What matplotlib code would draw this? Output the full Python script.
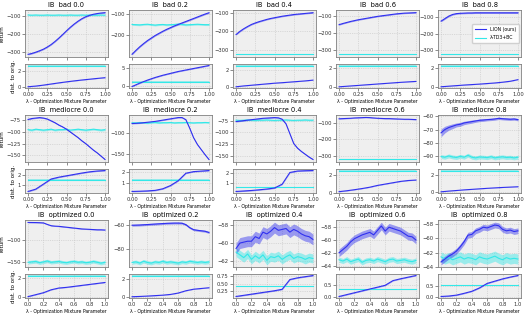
import matplotlib.pyplot as plt
import numpy as np

# lambda grid (mixture parameter)
lam21 = [0.0, 0.05, 0.1, 0.15, 0.2, 0.25, 0.3, 0.35, 0.4, 0.45, 0.5,
         0.55, 0.6, 0.65, 0.7, 0.75, 0.8, 0.85, 0.9, 0.95, 1.0]
lam11 = [0.0, 0.1, 0.2, 0.3, 0.4, 0.5, 0.6, 0.7, 0.8, 0.9, 1.0]

datasets = ["bad", "mediocre", "optimized"]
betas = ["0.0", "0.2", "0.4", "0.6", "0.8"]

# ---- return of LION (ours), 21 points per panel ----
bad_lion = [
    [-315, -310, -303, -295, -286, -274, -260, -243, -224, -204, -183,
     -163, -145, -129, -115, -104, -96, -90, -86, -83, -81],
    [-290, -272, -255, -240, -226, -214, -202, -192, -182, -173, -165,
     -157, -150, -143, -136, -129, -122, -115, -108, -101, -95],
    [-217, -200, -186, -174, -163, -155, -148, -142, -136, -131, -127,
     -123, -119, -116, -113, -110, -108, -106, -104, -102, -100],
    [-150, -143, -137, -131, -126, -121, -117, -113, -109, -105, -101,
     -98, -95, -92, -89, -86, -84, -82, -81, -80, -79],
    [-125, -110, -95, -85, -80, -78, -77, -76, -76, -75, -75,
     -75, -75, -75, -75, -75, -75, -75, -75, -75, -75],
]
bad_lion_std = [3, 3, 3, 3, 4]

mediocre_lion = [
    [-73, -71, -70, -69, -70, -72, -76, -80, -85, -89, -94,
     -100, -106, -112, -119, -125, -132, -139, -145, -152, -159],
    [-79, -78.5, -78, -77, -76, -75, -74, -72.5, -71, -69.5, -68,
     -66.5, -65, -65, -70, -90, -112, -128, -140, -152, -163],
    [-77, -76, -75, -74, -73, -72, -71, -70, -69.5, -69, -68.5,
     -69, -72, -82, -103, -124, -134, -141, -147, -153, -158],
    [-75, -74, -73, -72, -70, -69, -68, -67, -68, -70, -72,
     -73, -74, -74, -75, -76, -77, -78, -78, -79, -80],
    [-72.5, -70, -68.5, -67.5, -66.5, -66, -65, -64.5, -64, -63.5, -63,
     -62.8, -62.5, -62.3, -62, -61.5, -61.8, -62, -62.2, -62, -62.5],
]
mediocre_lion_std = [1.0, 1.0, 1.0, 2.0,
                     [3.0, 2.5, 2.0, 1.8, 1.5, 1.5, 1.3, 1.2, 1.2, 1.0, 1.0,
                      1.0, 0.9, 0.9, 0.9, 0.9, 0.9, 0.9, 0.9, 0.9, 0.9]]

optimized_lion = [
    [-58.5, -58.6, -58.7, -59, -59.5, -63, -66, -67, -67.5, -68.5, -69.5,
     -70.5, -71.5, -72.5, -73.5, -74, -74.5, -75, -75.5, -75.5, -76],
    [-60, -59.9, -59.8, -59.6, -59.4, -59.2, -59, -58.8, -58.6, -58.4, -58.3,
     -58.2, -58.2, -58.3, -59.5, -62, -63.7, -64.2, -64.6, -65, -66],
    [-60.6, -60.0, -59.9, -59.8, -59.8, -59.3, -59.5, -58.8, -59.0, -58.7, -58.3,
     -58.6, -58.5, -58.4, -58.8, -58.5, -58.7, -59.0, -59.2, -59.3, -59.6],
    [-62.0, -61.5, -61.0, -60.3, -59.8, -59.5, -59.2, -59.0, -58.8, -59.2, -58.5,
     -57.8, -58.6, -58.0, -58.2, -58.4, -58.6, -59.0, -59.4, -59.5, -60.0],
    [-63.3, -62.9, -62.5, -62.2, -61.8, -61.2, -60.5, -59.6, -59.5, -59.0, -58.8,
     -58.5, -58.6, -58.4, -58.2, -58.3, -58.8, -59.0, -58.9, -59.1, -59.0],
]
optimized_lion_std = [0.8, 0.8, 0.6, 0.6, 0.4]

# ---- return of lambda-TD3+BC, 21 points per panel ----
bad_td3 = [
    [-94, -95, -94, -95, -95, -94, -95, -95, -94, -95, -95,
     -94, -95, -95, -94, -95, -94, -95, -95, -94, -95],
    [-150, -151, -152, -150, -149, -151, -153, -151, -150, -152, -151,
     -150, -148, -150, -152, -151, -150, -149, -150, -151, -151],
    [-323] * 21,
    [-325] * 21,
    [-325] * 21,
]
bad_td3_std = [4, 4, 3, 3, 3]

mediocre_td3 = [
    [-95, -96, -94, -95, -96, -95, -94, -96, -95, -95, -94,
     -96, -95, -94, -95, -96, -95, -94, -95, -96, -95],
    [-77, -77.5, -76.5, -77, -78, -77, -76.5, -77.5, -77, -77, -76.5,
     -77.5, -77, -77, -76.5, -77, -77.5, -77, -77, -76.5, -77],
    [-74, -74.5, -74, -73.5, -74, -74.5, -74, -74, -73.5, -74, -74.5,
     -74, -74, -73.5, -74, -74.5, -74, -74, -73.5, -74, -74],
    [-322] * 21,
    [-90.5, -91, -90, -90.8, -91.2, -90.3, -91, -89.5, -91, -91.5, -90.8,
     -91, -91.3, -90.6, -91.5, -91, -90.7, -91.2, -91, -91.5, -91],
]
mediocre_td3_std = [2, 1.5, 1.5, 3, 1.5]

optimized_td3 = [
    [-151, -150, -149, -152, -150, -148, -151, -150, -149, -151, -152,
     -150, -149, -151, -150, -152, -151, -149, -151, -153, -151],
    [-91, -90.5, -91.5, -90, -91, -91.5, -90.5, -91, -90, -91, -90.5,
     -91, -91.5, -90.5, -91, -90, -90.5, -91, -90.5, -91, -90.5],
    [-61.0, -61.3, -61.6, -61.2, -61.8, -61.4, -61.7, -61.3, -61.9, -61.5, -61.6,
     -61.4, -61.8, -61.5, -61.3, -61.7, -61.5, -61.6, -61.8, -61.6, -61.7],
    [-63.1, -63.3, -63.0, -63.4, -63.2, -63.0, -63.5, -63.2, -63.1, -63.3, -63.0,
     -63.2, -63.4, -63.1, -63.0, -63.3, -63.2, -63.1, -63.3, -63.4, -63.2],
    [-62.6, -62.9, -62.7, -63.0, -62.8, -62.6, -62.9, -62.7, -62.8, -63.0, -62.6,
     -62.8, -62.9, -62.7, -62.5, -62.8, -63.0, -62.7, -62.9, -62.8, -62.9],
]
optimized_td3_std = [4, 1.5, 0.5, 0.4, 0.7]

# ---- distance to original policy, 11 points per panel ----
bad_lion_dist = [
    [0.02, 0.1, 0.22, 0.36, 0.5, 0.63, 0.75, 0.86, 0.96, 1.06, 1.15],
    [0.0, 0.9, 1.7, 2.4, 3.0, 3.5, 4.0, 4.4, 4.8, 5.2, 5.6],
    [0.02, 0.12, 0.2, 0.28, 0.36, 0.44, 0.5, 0.57, 0.64, 0.71, 0.8],
    [0.02, 0.08, 0.14, 0.2, 0.26, 0.32, 0.38, 0.44, 0.5, 0.55, 0.6],
    [0.02, 0.08, 0.14, 0.2, 0.25, 0.3, 0.36, 0.42, 0.5, 0.6, 0.77],
]
bad_td3_dist = [2.6, 1.3, 2.45, 2.25, 2.2]

mediocre_lion_dist = [
    [0.25, 0.5, 1.05, 1.6, 1.8, 1.95, 2.1, 2.25, 2.38, 2.47, 2.52],
    [0.2, 0.22, 0.25, 0.3, 0.45, 0.75, 1.2, 1.9, 2.05, 2.1, 2.15],
    [0.15, 0.2, 0.25, 0.32, 0.4, 0.5, 0.9, 2.1, 2.25, 2.28, 2.3],
    [0.1, 0.2, 0.32, 0.45, 0.6, 0.8, 0.95, 1.1, 1.25, 1.35, 1.4],
    [0.02, 0.1, 0.17, 0.24, 0.3, 0.36, 0.42, 0.47, 0.52, 0.56, 0.6],
]
mediocre_td3_dist = [1.5, 1.3, 0.6, 2.4, 2.4]

optimized_lion_dist = [
    [0.05, 0.25, 0.45, 0.75, 0.93, 1.0, 1.1, 1.2, 1.3, 1.4, 1.5],
    [0.05, 0.08, 0.12, 0.17, 0.22, 0.3, 0.45, 0.7, 0.87, 0.95, 1.03],
    [0.05, 0.09, 0.13, 0.17, 0.21, 0.25, 0.3, 0.64, 0.7, 0.74, 0.78],
    [0.02, 0.1, 0.18, 0.26, 0.34, 0.42, 0.5, 0.7, 0.78, 0.85, 0.92],
    [0.02, 0.04, 0.08, 0.16, 0.25, 0.4, 0.6, 0.7, 0.8, 0.88, 0.95],
]
optimized_td3_dist = [2.15, 2.3, 0.41, 0.34, 0.52]

# ---- tick labels ----
main_yticks = [
    [[-100, -200, -300], [-100, -200], [-100, -200, -300], [-100, -200, -300], [-100, -200, -300]],
    [[-75, -100, -125, -150], [-100, -150], [-75, -100, -125, -150], [-100, -200, -300], [-60, -70, -80, -90]],
    [[-100, -150], [-60, -80], [-58, -60, -62], [-58, -60, -62, -64], [-58, -60, -62, -64]],
]
sub_yticks = [
    [[0, 2], [0, 5], [0, 2], [0, 2], [0, 2]],
    [[1, 2], [1, 2], [1, 2], [0, 2], [0, 2]],
    [[0, 2], [0, 2], [0.25, 0.5, 0.75], [0.0, 0.5], [0.0, 0.5]],
]
xticks_quarter = [0.0, 0.25, 0.5, 0.75, 1.0]
xticks_fifth = [0.0, 0.2, 0.4, 0.6, 0.8, 1.0]

lion_ret = [bad_lion, mediocre_lion, optimized_lion]
lion_std = [bad_lion_std, mediocre_lion_std, optimized_lion_std]
td3_ret = [bad_td3, mediocre_td3, optimized_td3]
td3_std = [bad_td3_std, mediocre_td3_std, optimized_td3_std]
lion_dist = [bad_lion_dist, mediocre_lion_dist, optimized_lion_dist]
td3_dist = [bad_td3_dist, mediocre_td3_dist, optimized_td3_dist]

# colours / style
c_lion = "#3030f0"
c_td3 = "#33e8e8"
face = "#efefef"

W, H = 527, 314
fig = plt.figure(figsize=(W / 100, H / 100), dpi=100)
col_left = [25, 129, 233, 336, 438]
col_w = 83
row_top = [10, 115, 220]
main_h, gap, sub_h = 47, 7, 24


def style(ax):
    ax.set_facecolor(face)
    ax.grid(True, color="#c4c4c4", linestyle=(0, (2, 2)), linewidth=0.4)
    ax.set_axisbelow(True)
    for s in ax.spines.values():
        s.set_color("#808080")
        s.set_linewidth(0.6)
    ax.tick_params(labelsize=3.8, length=2, width=0.4, pad=1, colors="#333333")
    ax.set_xlim(-0.04, 1.04)


for r in range(3):
    for c in range(5):
        x0 = col_left[c] / W
        top = row_top[r]
        ax = fig.add_axes([x0, 1 - (top + main_h) / H, col_w / W, main_h / H])
        axs = fig.add_axes([x0, 1 - (top + main_h + gap + sub_h) / H, col_w / W, sub_h / H])

        y = np.array(lion_ret[r][c], dtype=float)
        s = np.asarray(lion_std[r][c], dtype=float)
        yt = np.array(td3_ret[r][c], dtype=float)
        st = np.asarray(td3_std[r][c], dtype=float)

        ax.fill_between(lam21, yt - st, yt + st, color=c_td3, alpha=0.45, lw=0)
        ax.plot(lam21, yt, color=c_td3, lw=0.8, label="λ-TD3+BC")
        ax.fill_between(lam21, y - s, y + s, color=c_lion, alpha=0.45, lw=0)
        ax.plot(lam21, y, color=c_lion, lw=0.8, label="LION (ours)")
        style(ax)
        ax.set_yticks(main_yticks[r][c])
        ax.set_title(f"IB  {datasets[r]} {betas[c]}", fontsize=4.8, pad=2)

        d = np.array(lion_dist[r][c], dtype=float)
        dt = np.full(len(lam11), td3_dist[r][c])
        axs.fill_between(lam11, dt - 0.05 * dt.max(), dt + 0.05 * dt.max(), color=c_td3, alpha=0.45, lw=0)
        axs.plot(lam11, dt, color=c_td3, lw=0.8)
        axs.fill_between(lam11, d - 0.02 * d.max(), d + 0.02 * d.max(), color=c_lion, alpha=0.45, lw=0)
        axs.plot(lam11, d, color=c_lion, lw=0.8)
        style(axs)
        axs.set_yticks(sub_yticks[r][c])

        xt = xticks_quarter if r < 2 else xticks_fifth
        ax.set_xticks(xt)
        ax.set_xticklabels([])
        axs.set_xticks(xt)
        axs.set_xlabel("λ - Optimization Mixture Parameter", fontsize=3.3, labelpad=1)

        if c == 0:
            ax.set_ylabel("return", fontsize=4, labelpad=1)
            axs.set_ylabel("dist. to orig.", fontsize=4, labelpad=1)

        if r == 0 and c == 4:
            h, l = ax.get_legend_handles_labels()
            ax.legend(h[::-1], l[::-1], loc="center right", fontsize=3.3,
                      frameon=True, fancybox=True, framealpha=0.9,
                      handlelength=2.5, borderpad=0.6, labelspacing=0.8)

fig.savefig("out.png", dpi=100)
